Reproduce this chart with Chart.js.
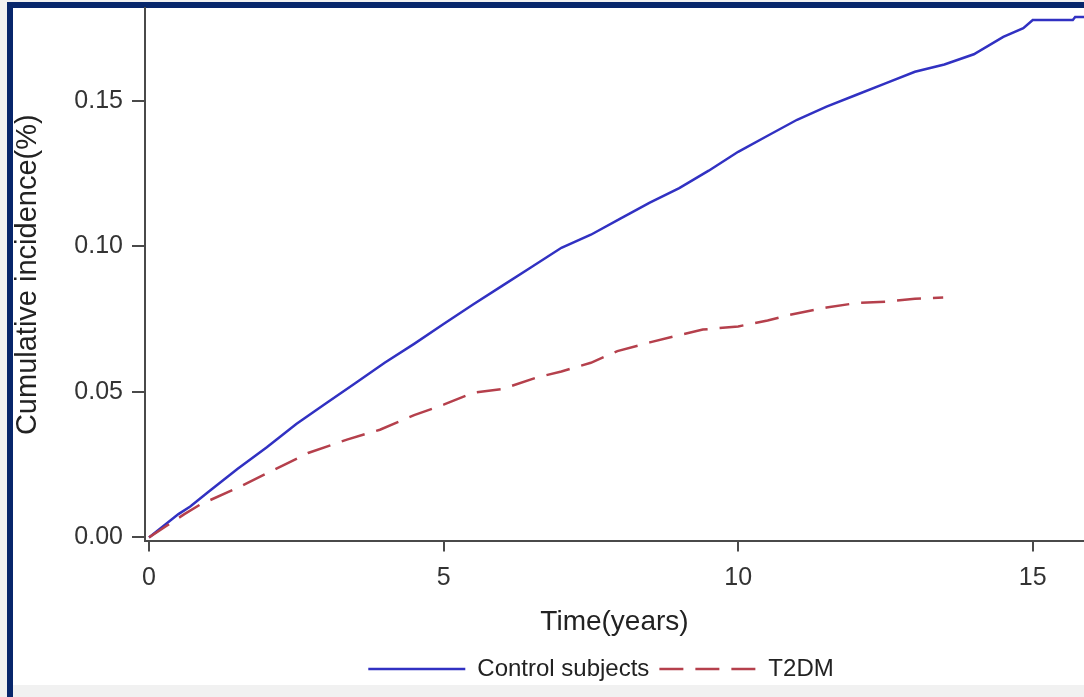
<!DOCTYPE html>
<html>
<head>
<meta charset="utf-8">
<script src="https://cdn.jsdelivr.net/npm/chart.js@4/dist/chart.umd.min.js"></script>
<style>
  html, body { margin: 0; padding: 0; }
  body { width: 1084px; height: 697px; overflow: hidden; background: #f1f1f1; position: relative; font-family: 'Liberation Sans', Arial, sans-serif; }
  #frame { position: absolute; left: 7px; top: 2px; right: -20px; bottom: 0; background: #fff; border-left: 6px solid #07266b; border-top: 6px solid #07266b; }
  #strip { position: absolute; left: 13px; right: 0; top: 685px; bottom: 0; background: #f1f1f1; }
  #wrap { position: absolute; left: 0; top: 0; width: 1084px; height: 697px; }
</style>
</head>
<body>
<div id="frame"></div>
<div id="strip"></div>
<div id="wrap"><canvas id="km-chart"></canvas></div>
<script>
// ─── DATA ─────────────────────────────────────────────────
const controlTime = [0, 0.25, 0.5, 0.7, 1.0, 1.5, 2.0, 2.5, 3.0, 3.5, 4.0, 4.5, 5.0, 5.5, 6.0, 6.5, 7.0, 7.5, 8.0, 8.5, 9.0, 9.5, 10.0, 10.5, 11.0, 11.5, 12.0, 12.5, 13.0, 13.5, 14.0, 14.5, 14.84, 15.0, 15.68, 15.72, 16.0];
const controlInc  = [0, 0.004, 0.008, 0.0106, 0.0155, 0.0235, 0.031, 0.039, 0.046, 0.053, 0.060, 0.0665, 0.0733, 0.080, 0.0865, 0.093, 0.0995, 0.104, 0.1095, 0.115, 0.120, 0.126, 0.1325, 0.138, 0.1435, 0.148, 0.152, 0.156, 0.160, 0.1625, 0.166, 0.172, 0.175, 0.1778, 0.1778, 0.1788, 0.1788];

const t2dmTime = [0, 0.3, 0.6, 0.87, 1.5, 2.1, 2.7, 3.36, 3.92, 4.5, 5.0, 5.5, 6.0, 6.59, 7.0, 7.5, 7.95, 8.5, 9.0, 9.4, 10.0, 10.5, 10.88, 11.5, 12.0, 12.5, 13.0, 13.48];
const t2dmInc  = [0, 0.004, 0.008, 0.0113, 0.017, 0.023, 0.029, 0.0336, 0.037, 0.042, 0.0456, 0.0497, 0.051, 0.055, 0.057, 0.060, 0.064, 0.067, 0.0695, 0.0714, 0.0725, 0.0745, 0.0765, 0.079, 0.0805, 0.081, 0.082, 0.0824];

const xTicks = [0, 5, 10, 15];
const yTicks = [0, 0.05, 0.10, 0.15];

const toPoints = (xs, ys) => xs.map((x, i) => ({ x, y: ys[i] }));

const FONT = "'Liberation Sans', Arial, sans-serif";
const AXIS = '#4a4a4a';

// legend in the source sits a bit right of the page centre
const legendShift = {
    id: 'legendShift',
    afterLayout(chart) {
        if (chart.legend) chart.legend.left += 118;
    }
};

new Chart(document.getElementById('km-chart'), {
    type: 'line',
    data: {
        datasets: [
            {
                label: 'Control subjects',
                data: toPoints(controlTime, controlInc),
                borderColor: '#3131c2',
                borderWidth: 2.5,
                pointRadius: 0,
                tension: 0,
                order: 1,
            },
            {
                label: 'T2DM',
                data: toPoints(t2dmTime, t2dmInc),
                borderColor: '#b5404c',
                borderWidth: 2.5,
                borderDash: [24, 12],
                pointRadius: 0,
                tension: 0,
                order: 0,
            }
        ]
    },
    options: {
        responsive: true, maintainAspectRatio: false, animation: false,
        layout: { padding: { left: 0, right: 0, top: 8, bottom: 6 } },
        plugins: {
            tooltip: { enabled: false },
            legend: {
                position: 'bottom',
                labels: {
                    usePointStyle: true, pointStyle: 'line', pointStyleWidth: 97,
                    padding: 10, color: '#222',
                    font: { family: FONT, size: 24 },
                    sort: (a, b) => a.datasetIndex - b.datasetIndex,
                    // point style swatches lose the dataset dash, put it back
                    generateLabels: chart => Chart.defaults.plugins.legend.labels.generateLabels(chart).map(item => {
                        item.lineDash = chart.data.datasets[item.datasetIndex].borderDash || [];
                        return item;
                    }),
                }
            }
        },
        scales: {
            x: {
                type: 'linear', min: -0.068, max: 15.87,
                afterBuildTicks: s => { s.ticks = xTicks.map(v => ({ value: v })); },
                afterFit: s => { s.paddingLeft = 0; s.paddingRight = 0; },
                border: { color: AXIS, width: 2 },
                grid: { drawOnChartArea: false, color: AXIS, lineWidth: 2, tickLength: 10 },
                ticks: { color: '#333', padding: 12, maxRotation: 0, font: { family: FONT, size: 25 } },
                title: { display: true, text: 'Time(years)', color: '#222', font: { family: FONT, size: 28 }, padding: { top: 0, bottom: 8 } },
            },
            y: {
                min: -0.00137, max: 0.1819,
                afterBuildTicks: s => { s.ticks = yTicks.map(v => ({ value: v })); },
                afterFit: s => { s.width = 145; s.paddingTop = 0; s.paddingBottom = 0; },
                border: { color: AXIS, width: 2 },
                grid: { drawOnChartArea: false, color: AXIS, lineWidth: 2, tickLength: 13 },
                ticks: { color: '#333', padding: 9, callback: v => v.toFixed(2), font: { family: FONT, size: 25 } },
                title: { display: true, text: 'Cumulative incidence(%)', color: '#222', font: { family: FONT, size: 29 }, padding: { top: 11, bottom: 0 } },
            }
        }
    },
    plugins: [legendShift]
});
</script>
</body>
</html>
